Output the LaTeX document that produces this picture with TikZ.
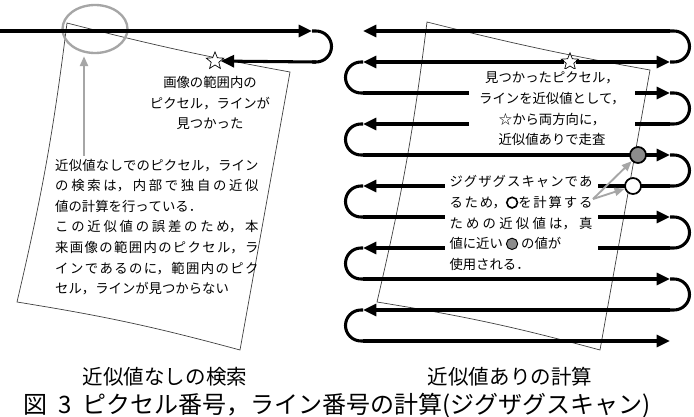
\documentclass[tikz,border=0pt]{standalone}
\usepackage{fontspec}
\setmainfont{Noto Sans CJK JP}
\usepackage{tikz}
\usetikzlibrary{shapes.geometric,arrows.meta}
\XeTeXlinebreaklocale "ja"
\XeTeXlinebreakskip=0pt plus 4pt
\newcommand{\opendot}{\tikz[baseline=-0.36em]\draw[line width=1.4pt] (0,0) circle[radius=0.16cm];}
\newcommand{\fulldot}{\tikz[baseline=-0.36em]\draw[line width=0.8pt, fill=black!45] (0,0) circle[radius=0.17cm];}

\begin{document}
\begin{tikzpicture}[x=0.03cm, y=-0.03cm,
  scan/.style={line width=2.6pt, -{Triangle[length=0.4cm,width=0.36cm]}},
  turn/.style={line width=2.6pt},
  paper/.style={draw=black!75, line width=0.6pt, fill=white},
  hint/.style={draw=black!35, line width=1.6pt, -{Triangle[length=0.3cm,width=0.24cm]}},
  note/.style={font=\fontsize{11.4}{17.6}\selectfont, inner sep=0pt},
  caption/.style={font=\fontsize{17.5}{20}\selectfont},
  starmark/.style={star, star points=5, star point ratio=2.3, draw, fill=white, line width=0.6pt, minimum size=0.55cm, inner sep=0pt},
  dot/.style={circle, draw, line width=1.5pt, minimum size=0.48cm, inner sep=0pt}]
  \useasboundingbox (0,0) rectangle (694,416);
  \clip (0,0) rectangle (694,416);

  % the two sheets
  \draw[paper] (67,23) to[bend right=2] (290,72) -- (240,350) to[bend right=3] (17,302) to[bend right=3] cycle;
  \draw[paper] (427,22) to[bend right=2] (650,70) -- (600,350) to[bend right=3] (377,302) to[bend right=3] cycle;

  % left: search without approximation
  \node[ellipse, draw=black!35, line width=2pt, minimum width=1.95cm, minimum height=1.44cm] (lens) at (95,29) {};
  \coordinate (lstart) at (0,31);
  \draw[scan] (lstart) -- (312,31);
  \draw[turn] (312,31) -- (316,31) arc[start angle=-90,end angle=90,radius=15.5] -- (312,62);
  \node[starmark] (lstar) at (215,61) {};
  \draw[scan] (316,62) -- (lstar);
  \coordinate (up) at (84,156);
  \draw[hint, line width=2pt, shorten >=0.06cm] (up) -- (up |- lens.south);
  \node[note, align=center] (foundtxt) at (210,103) {画像の範囲内の\\ピクセル，ラインが\\見つかった};
  \node[note, anchor=west, text width=6.1cm, align=justify] (nohint) at (55,227) {近似値なしでのピクセル，ライン\linebreak の検索は，内部で独自の近似\linebreak 値の計算を行っている．\\この近似値の誤差のため，本\linebreak 来画像の範囲内のピクセル，ラ\linebreak インであるのに，範囲内のピク\linebreak セル，ラインが見つからない};
  \node[caption] (capL) at (165,377) {近似値なしの検索};

  % right: zigzag scan with approximation
  \node[starmark] (rstar) at (570,62) {};
  \draw[scan] (670,31) -- (363,31);
  \draw[scan] (rstar) -- (363,62);
  \draw[scan] (rstar) -- (670,62);
  \draw[scan] (363,93) -- (670,93);
  \draw[scan] (670,124) -- (363,124);
  \draw[scan] (363,155) -- (670,155);
  \draw[scan] (670,186) -- (363,186);
  \draw[scan] (363,217) -- (670,217);
  \draw[scan] (670,248) -- (363,248);
  \draw[scan] (363,279) -- (670,279);
  \draw[scan] (670,310) -- (363,310);
  \draw[scan] (363,341) -- (670,341);
  \draw[turn] (670,31) -- (674,31) arc[start angle=-90,end angle=90,radius=15.5] -- (670,62);
  \draw[turn] (670,93) -- (674,93) arc[start angle=-90,end angle=90,radius=15.5] -- (670,124);
  \draw[turn] (670,155) -- (674,155) arc[start angle=-90,end angle=90,radius=15.5] -- (670,186);
  \draw[turn] (670,217) -- (674,217) arc[start angle=-90,end angle=90,radius=15.5] -- (670,248);
  \draw[turn] (670,279) -- (674,279) arc[start angle=-90,end angle=90,radius=15.5] -- (670,310);
  \draw[turn] (363,62) -- (361,62) arc[start angle=-90,end angle=-270,radius=15.5] -- (363,93);
  \draw[turn] (363,124) -- (361,124) arc[start angle=-90,end angle=-270,radius=15.5] -- (363,155);
  \draw[turn] (363,186) -- (361,186) arc[start angle=-90,end angle=-270,radius=15.5] -- (363,217);
  \draw[turn] (363,248) -- (361,248) arc[start angle=-90,end angle=-270,radius=15.5] -- (363,279);
  \draw[turn] (363,310) -- (361,310) arc[start angle=-90,end angle=-270,radius=15.5] -- (363,341);
  \node[note, align=center, fill=white, inner xsep=0.3cm, inner ysep=0.09cm] (scantxt) at (552,109) {見つかったピクセル，\\ラインを近似値として，\\☆から両方向に，\\近似値ありで走査};
  \node[note, text width=4.29cm, align=justify, fill=white, inner xsep=0.15cm, inner ysep=0.12cm] (zigtxt) at (521,223) {ジグザグスキャンであ\linebreak るため，\opendot を計算する\linebreak ための近似値は，真\linebreak 値に近い\ \fulldot\ の値が\\使用される．};
  \node[dot, fill=black!45] (known) at (638,155) {};
  \node[dot, fill=white] (next) at (633,186) {};
  \coordinate (ref) at (593,199);
  \draw[hint] (ref) -- (known);
  \draw[hint] (ref) -- (next);
  \node[caption] (capR) at (510,377) {近似値ありの計算};

  \node[font=\fontsize{20.5}{24}\selectfont, anchor=base] (figcap) at (337,413) {図\hspace{0.45em}3\hspace{0.45em}ピクセル番号，ライン番号の計算(ジグザグスキャン)};
\end{tikzpicture}
\end{document}
